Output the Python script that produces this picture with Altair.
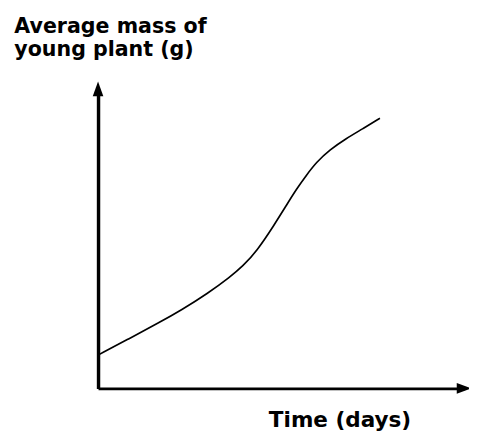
import altair as alt
import pandas as pd

# Curve (arbitrary units: x = time, y = average mass)
time_vals = [0, 32, 62, 85, 112, 135, 148, 162, 180, 193, 203, 213, 223, 237, 253, 270, 288]
mass_vals = [34, 51, 67, 80, 97, 114, 125, 140, 167, 188, 204, 218, 231, 244, 255, 265, 276]

x_max = 374
y_max = 306

curve = pd.DataFrame({"time": time_vals, "mass": mass_vals})
arrows = pd.DataFrame({
    "time": [0, x_max],
    "mass": [y_max, 0],
    "shape": ["M0,-1L0.72,1L-0.72,1Z", "M1,0L-1,-0.72L-1,0.72Z"],
})

FONT = "DejaVu Sans"

x_scale = alt.Scale(domain=[0, x_max], nice=False, zero=True)
y_scale = alt.Scale(domain=[0, y_max], nice=False, zero=True)

x_axis = alt.Axis(
    title="Time (days)", labels=False, ticks=False, grid=False,
    domainColor="black", domainWidth=3,
    titleFont=FONT, titleFontSize=22, titleFontWeight="bold", titleColor="black",
    titleAlign="left", titleBaseline="alphabetic", titleX=174, titleY=39,
)
y_axis = alt.Axis(
    title=["Average mass of", "young plant (g)"], labels=False, ticks=False, grid=False,
    domainColor="black", domainWidth=3.5,
    titleFont=FONT, titleFontSize=21, titleFontWeight="bold", titleColor="black",
    titleAngle=0, titleAlign="left", titleBaseline="alphabetic",
    titleX=-86, titleY=-58, titleLineHeight=24,
)

line = alt.Chart(curve).mark_line(color="black", strokeWidth=1.7, interpolate="basis").encode(
    x=alt.X("time:Q", scale=x_scale, axis=x_axis),
    y=alt.Y("mass:Q", scale=y_scale, axis=y_axis),
)

heads = alt.Chart(arrows).mark_point(filled=True, color="black", opacity=1, size=225, clip=False, strokeWidth=0).encode(
    x=alt.X("time:Q", scale=x_scale),
    y=alt.Y("mass:Q", scale=y_scale),
    shape=alt.Shape("shape:N", scale=None, legend=None),
)

chart = alt.layer(line, heads).properties(
    width=x_max, height=y_max,
    autosize=alt.AutoSizeParams(type="none"),
    padding={"left": 92, "top": 78, "right": 5, "bottom": 45},
).configure(background="white").configure_view(strokeWidth=0, stroke=None)

chart.save("out.html", embed_options={"renderer": "svg", "actions": False})
